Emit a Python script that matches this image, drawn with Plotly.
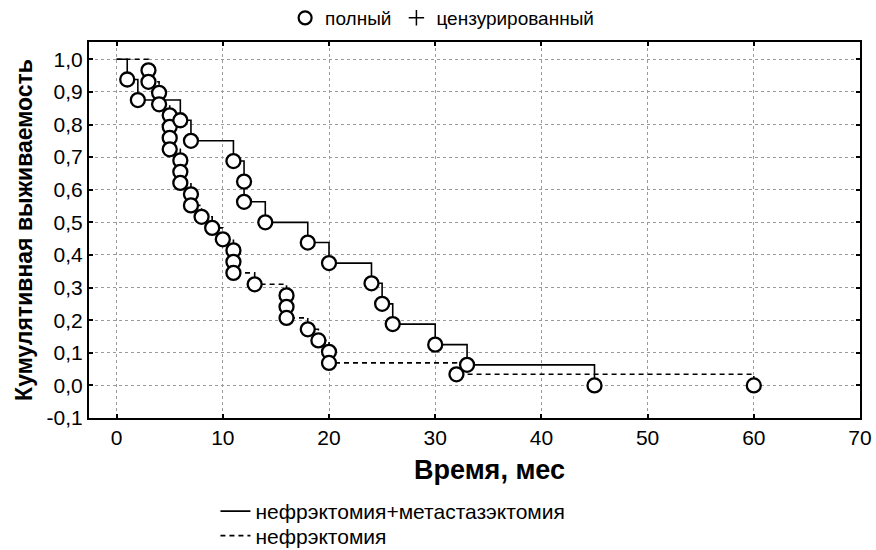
import plotly.graph_objects as go

# Kaplan-Meier: нефрэктомия+метастазэктомия (solid)
t_solid = [1, 2, 6, 7, 11, 12, 12, 14, 18, 20, 24, 25, 26, 30, 33, 45]
s_solid = [0.938, 0.875, 0.813, 0.75, 0.688, 0.625, 0.563, 0.5, 0.438, 0.375,
           0.313, 0.25, 0.188, 0.125, 0.063, 0.0]

# Kaplan-Meier: нефрэктомия (dashed)
t_dash = [3, 3, 4, 4, 5, 5, 5, 5, 6, 6, 6, 7, 7, 8, 9, 10, 11, 11, 11, 13,
          16, 16, 16, 18, 19, 20, 20, 32, 60]
s_dash = [0.966, 0.931, 0.897, 0.862, 0.828, 0.793, 0.759, 0.724, 0.690, 0.655,
          0.621, 0.586, 0.552, 0.517, 0.483, 0.448, 0.414, 0.379, 0.345, 0.310,
          0.276, 0.241, 0.207, 0.172, 0.138, 0.103, 0.069, 0.034, 0.0]

start_t = 0
start_s = 1.0

name_solid = "нефрэктомия+метастазэктомия"
name_dash = "нефрэктомия"
legend_full = "полный"
legend_cens = "цензурированный"
x_title = "Время, мес"
y_title = "Кумулятивная выживаемость"

x_ticks = [0, 10, 20, 30, 40, 50, 60, 70]
y_ticks = [-0.1, 0.0, 0.1, 0.2, 0.3, 0.4, 0.5, 0.6, 0.7, 0.8, 0.9, 1.0]
y_tick_labels = ["-0,1", "0,0", "0,1", "0,2", "0,3", "0,4", "0,5", "0,6",
                 "0,7", "0,8", "0,9", "1,0"]

FONT = "Liberation Sans, Arial, sans-serif"

fig = go.Figure()

fig.add_trace(go.Scatter(
    x=[start_t] + t_solid, y=[start_s] + s_solid, mode="lines",
    line=dict(color="black", width=1.6, shape="hv"),
    name=name_solid, legend="legend", hoverinfo="skip"))
fig.add_trace(go.Scatter(
    x=[start_t] + t_dash, y=[start_s] + s_dash, mode="lines",
    line=dict(color="black", width=1.6, shape="hv", dash="5px,4px"),
    name=name_dash, legend="legend3", hoverinfo="skip"))

marker_style = dict(symbol="circle", size=14, color="white",
                    line=dict(color="black", width=2.3))
fig.add_trace(go.Scatter(x=t_dash, y=s_dash, mode="markers",
                         marker=marker_style, showlegend=False))
fig.add_trace(go.Scatter(x=t_solid, y=s_solid, mode="markers",
                         marker=marker_style, showlegend=False))

# top legend (event types)
fig.add_trace(go.Scatter(x=[None], y=[None], mode="markers", name=legend_full,
                         marker=dict(symbol="circle", size=13, color="white",
                                     line=dict(color="black", width=2.2)),
                         legend="legend2"))
fig.add_trace(go.Scatter(x=[None], y=[None], mode="markers", name=legend_cens,
                         marker=dict(symbol="cross-thin", size=11, color="black",
                                     line=dict(color="black", width=1.5)),
                         legend="legend2"))

grid = dict(showgrid=True, gridcolor="#9a9a9a", griddash="dot", gridwidth=1,
            showline=True, linecolor="black", linewidth=2, mirror="allticks",
            ticks="inside", ticklen=4, tickcolor="black", tickwidth=1.5,
            zeroline=False,
            tickfont=dict(family=FONT, size=21, color="black"))

bottom_legend = dict(x=0.164, xanchor="left", yanchor="middle",
                     font=dict(size=21), itemwidth=30,
                     bgcolor="rgba(0,0,0,0)")

fig.update_layout(
    width=876, height=550,
    margin=dict(l=89, r=16, t=42, b=132, autoexpand=False),
    paper_bgcolor="white", plot_bgcolor="white",
    separators=", ",
    font=dict(family=FONT, color="black"),
    xaxis=dict(range=[-2.6, 70], tickvals=x_ticks, **grid),
    yaxis=dict(range=[-0.1, 1.053], tickvals=y_ticks, ticktext=y_tick_labels,
               title=dict(text="<b>" + y_title + "</b>",
                          font=dict(size=23), standoff=8),
               **grid),
    legend=dict(y=-0.2487, **bottom_legend),
    legend3=dict(y=-0.3138, **bottom_legend),
    legend2=dict(orientation="h", x=0.458, xanchor="center", y=1.064,
                 yanchor="middle", font=dict(size=19),
                 bgcolor="rgba(0,0,0,0)"),
    annotations=[dict(text="<b>" + x_title + "</b>", xref="paper", yref="paper",
                      x=0.519, y=-0.138, xanchor="center", yanchor="middle",
                      showarrow=False, font=dict(size=27))],
)

fig.write_html("out.html",
               config={"displayModeBar": False},
               post_script="document.body.style.margin='0';"
                           "document.body.style.overflow='hidden';")
